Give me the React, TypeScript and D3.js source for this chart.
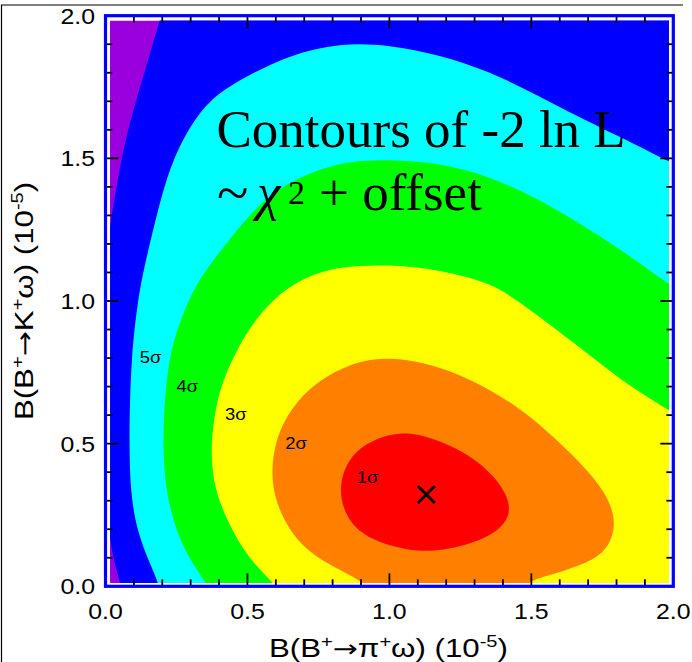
import React from 'react';
import * as d3 from 'd3';

type Pt = [number, number];

// Axis ranges and ticks (branching fractions, units of 1e-5)
const xDomain: Pt = [0, 2];
const yDomain: Pt = [0, 2];
const majorTicks = [0, 0.5, 1.0, 1.5, 2.0];
const tickLabels = ['0.0', '0.5', '1.0', '1.5', '2.0'];
const minorTicks = [0.1, 0.2, 0.3, 0.4, 0.6, 0.7, 0.8, 0.9, 1.1, 1.2, 1.3, 1.4, 1.6, 1.7, 1.8, 1.9];

// Contour boundaries of -2 ln L, listed as (B(pi omega), B(K omega)) points.
// Open boundaries leave the plot range and are closed through the "outer" points.
const sigma6: Pt[] = [[0.215, 2.08], [0.196, 2.0], [0.161, 1.881], [0.108, 1.706], [0.061, 1.531], [0.032, 1.356], [0.012, 1.25], [-0.005, 1.0], [-0.01, 0.6], [0.0, 0.3], [0.016, 0.154], [0.035, 0.07], [0.055, 0.0], [0.065, -0.05]];
const sigma6Outer: Pt[] = [[2.5, -0.5], [2.5, 2.5], [0.23, 2.5]];

const sigma5: Pt[] = [[2.1, 1.44], [1.98, 1.49], [1.882, 1.542], [1.706, 1.625], [1.53, 1.717], [1.353, 1.805], [1.177, 1.863], [1.0, 1.898], [0.825, 1.905], [0.648, 1.863], [0.472, 1.776], [0.367, 1.706], [0.296, 1.612], [0.226, 1.472], [0.179, 1.297], [0.137, 1.122], [0.114, 1.005], [0.09, 0.802], [0.082, 0.5], [0.09, 0.305], [0.114, 0.189], [0.149, 0.095], [0.184, 0.02], [0.2, -0.05]];
const sigma5Outer: Pt[] = [[2.5, -0.5], [2.5, 1.4]];

const sigma4: Pt[] = [[2.1, 1.0], [1.98, 1.058], [1.882, 1.135], [1.706, 1.25], [1.53, 1.356], [1.353, 1.437], [1.177, 1.484], [1.0, 1.496], [0.825, 1.49], [0.648, 1.42], [0.531, 1.332], [0.437, 1.215], [0.345, 1.1], [0.29, 1.0], [0.245, 0.88], [0.222, 0.78], [0.208, 0.65], [0.202, 0.5], [0.21, 0.38], [0.22, 0.305], [0.251, 0.189], [0.296, 0.095], [0.349, 0.02], [0.375, -0.03]];
const sigma4Outer: Pt[] = [[2.5, -0.5], [2.5, 1.0]];

const sigma3: Pt[] = [[2.1, 0.55], [1.98, 0.62], [1.847, 0.7], [1.717, 0.802], [1.588, 0.9], [1.447, 1.005], [1.353, 1.064], [1.177, 1.11], [1.0, 1.128], [0.825, 1.122], [0.7, 1.085], [0.584, 1.005], [0.496, 0.89], [0.449, 0.8], [0.405, 0.7], [0.384, 0.6], [0.372, 0.5], [0.376, 0.4], [0.396, 0.305], [0.449, 0.189], [0.507, 0.095], [0.584, 0.02], [0.62, -0.03]];
const sigma3Outer: Pt[] = [[2.5, -0.5], [2.5, 0.55]];

const sigma2: Pt[] = [[0.95, -0.03], [0.907, 0.02], [0.742, 0.095], [0.648, 0.189], [0.596, 0.305], [0.584, 0.398], [0.596, 0.5], [0.637, 0.6], [0.719, 0.7], [0.836, 0.77], [0.96, 0.805], [1.12, 0.789], [1.295, 0.725], [1.47, 0.62], [1.588, 0.515], [1.706, 0.4], [1.776, 0.305], [1.8, 0.211], [1.765, 0.118], [1.67, 0.071], [1.553, 0.036], [1.494, 0.02], [1.45, -0.03]];
const sigma2Outer: Pt[] = [[1.45, -0.3], [0.95, -0.3]];

const sigma1: Pt[] = [[0.815, 0.356], [0.873, 0.481], [0.994, 0.535], [1.088, 0.541], [1.241, 0.487], [1.364, 0.401], [1.45, 0.267], [1.364, 0.169], [1.179, 0.12], [1.057, 0.126], [0.934, 0.162], [0.848, 0.23]];

const outsideColor = '#9900dd';
const levelColors = ['#0000ff', '#00ffff', '#00ff00', '#ffff00', '#ff8000', '#ff0000'];

// Contour labels, anchored at their left baseline
const sigmaLabels = ['5σ', '4σ', '3σ', '2σ', '1σ'];
const sigmaLabelX = [0.121, 0.25, 0.421, 0.633, 0.885];
const sigmaLabelY = [0.783, 0.682, 0.582, 0.482, 0.361];

// Best-fit point
const bestFit: Pt = [1.13, 0.322];

const W = 692;
const H = 662;
const frame = { left: 105.5, right: 673.3, top: 15.7, bottom: 586.3 };
const inner = { left: 110, right: 669, top: 20.5, bottom: 583 };

function AxisTitle({ meson }: { meson: string }) {
  const sans = '"Liberation Sans", Arial, Helvetica, sans-serif';
  return (
    <text textAnchor="middle" fontFamily={sans} fontSize={25} fill="#000">
      B(B<tspan dy={-10} fontSize={16}>+</tspan>
      <tspan dy={10} fontFamily='"DejaVu Sans", sans-serif' fontSize={24}>→</tspan>
      <tspan>{meson}</tspan>
      <tspan dy={-10} fontSize={16}>+</tspan>
      <tspan dy={10}>ω) (10</tspan>
      <tspan dy={-10} fontSize={16}>-5</tspan>
      <tspan dy={10}>)</tspan>
    </text>
  );
}

export default function App() {
  const x = d3.scaleLinear().domain(xDomain).range([frame.left, frame.right]);
  const y = d3.scaleLinear().domain(yDomain).range([frame.bottom, frame.top]);

  const openLine = d3
    .line<Pt>()
    .x((d) => x(d[0]))
    .y((d) => y(d[1]))
    .curve(d3.curveBasis);
  const closedLine = d3
    .line<Pt>()
    .x((d) => x(d[0]))
    .y((d) => y(d[1]))
    .curve(d3.curveBasisClosed);

  const region = (pts: Pt[], outer: Pt[]) =>
    (openLine(pts) || '') + outer.map((p) => `L${x(p[0])},${y(p[1])}`).join('') + 'Z';

  const regions = [
    region(sigma6, sigma6Outer),
    region(sigma5, sigma5Outer),
    region(sigma4, sigma4Outer),
    region(sigma3, sigma3Outer),
    region(sigma2, sigma2Outer),
    closedLine(sigma1) || '',
  ];

  const minorLen = 7;
  const majorLen = 13;
  const allTicks = [
    ...minorTicks.map((v) => ({ v, len: minorLen })),
    ...majorTicks.filter((v) => v > 0 && v < 2).map((v) => ({ v, len: majorLen })),
  ];

  const bx = x(bestFit[0]);
  const by = y(bestFit[1]);
  const m = 8.5;

  const sansFont = '"Liberation Sans", Arial, Helvetica, sans-serif';
  const serifFont = '"Liberation Serif", "Times New Roman", serif';

  return (
    <svg
      width={W}
      height={H}
      viewBox={`0 0 ${W} ${H}`}
      style={{ position: 'absolute', left: 0, top: 0, background: '#ffffff' }}
    >
      <defs>
        <clipPath id="plot-area">
          <rect x={inner.left} y={inner.top} width={inner.right - inner.left} height={inner.bottom - inner.top} />
        </clipPath>
      </defs>
      <rect x={0} y={0} width={W} height={H} fill="#ffffff" />
      <path d={`M1.5,${H} V5 H683`} fill="none" stroke="#000" strokeWidth={1.2} />

      <rect
        x={frame.left}
        y={frame.top}
        width={frame.right - frame.left}
        height={frame.bottom - frame.top}
        fill="#ffffff"
      />

      <g clipPath="url(#plot-area)">
        <rect x={inner.left} y={inner.top} width={inner.right - inner.left} height={inner.bottom - inner.top} fill={outsideColor} />
        {regions.map((d, i) => (
          <path key={i} d={d} fill={levelColors[i]} stroke="none" />
        ))}
      </g>

      {/* ticks on all four sides, pointing inward */}
      <g stroke="#000" strokeWidth={1.8}>
        {allTicks.map(({ v, len }, i) => (
          <g key={i}>
            <line x1={x(v)} x2={x(v)} y1={frame.bottom} y2={frame.bottom - len} />
            <line x1={x(v)} x2={x(v)} y1={frame.top} y2={frame.top + len} />
            <line y1={y(v)} y2={y(v)} x1={frame.left} x2={frame.left + len} />
            <line y1={y(v)} y2={y(v)} x1={frame.right} x2={frame.right - len} />
          </g>
        ))}
      </g>

      <rect
        x={frame.left}
        y={frame.top}
        width={frame.right - frame.left}
        height={frame.bottom - frame.top}
        fill="none"
        stroke="#0000ff"
        strokeWidth={3.2}
      />

      {/* tick labels */}
      <g fontFamily={sansFont} fontSize={22} fill="#000">
        {majorTicks.map((v, i) => (
          <g key={'x' + i} transform={`translate(${x(v)},618.5) scale(1.13,1)`}>
            <text textAnchor="middle">{tickLabels[i]}</text>
          </g>
        ))}
        {majorTicks.map((v, i) => (
          <g key={'y' + i} transform={`translate(95,${y(v) + 8}) scale(1.13,1)`}>
            <text textAnchor="end">{tickLabels[i]}</text>
          </g>
        ))}
      </g>

      {/* axis titles */}
      <g transform={`translate(${(frame.left + frame.right) / 2 - 1},657) scale(1.25,1)`}>
        <AxisTitle meson="π" />
      </g>
      <g transform={`translate(33,${(frame.top + frame.bottom) / 2}) rotate(-90) scale(1.25,1)`}>
        <AxisTitle meson="K" />
      </g>

      {/* contour labels */}
      <g fontFamily={sansFont} fontSize={16} fill="#000">
        {sigmaLabels.map((s, i) => (
          <g key={s} transform={`translate(${x(sigmaLabelX[i])},${y(sigmaLabelY[i])}) scale(1.15,1)`}>
            <text>{s}</text>
          </g>
        ))}
      </g>

      {/* best-fit marker */}
      <g stroke="#000" strokeWidth={2.8}>
        <line x1={bx - m} y1={by - m} x2={bx + m} y2={by + m} />
        <line x1={bx - m} y1={by + m} x2={bx + m} y2={by - m} />
      </g>

      {/* annotation */}
      <g fontFamily={serifFont} fill="#000">
        <text x={216.5} y={146.7} fontSize={53}>Contours of -2 ln L</text>
        <text x={217} y={212} fontSize={58}>~</text>
        <text x={257} y={210} fontSize={53} fontStyle="italic">χ</text>
        <text x={288} y={204} fontSize={34}>2</text>
        <text x={319} y={210} fontSize={53}>+ offset</text>
      </g>
    </svg>
  );
}
